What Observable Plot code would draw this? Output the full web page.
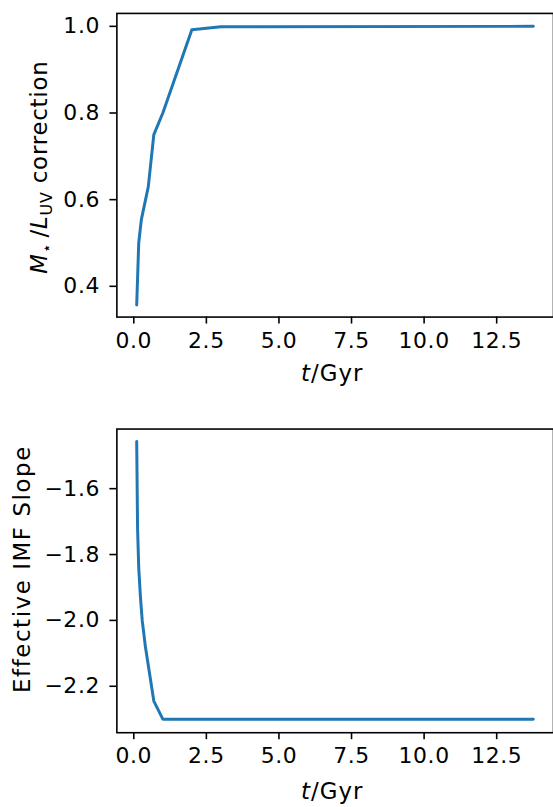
<!DOCTYPE html>
<html><head><meta charset="utf-8">
<script src="https://cdn.jsdelivr.net/npm/d3@7"></script>
<script src="https://cdn.jsdelivr.net/npm/@observablehq/plot@0.6"></script>
<style>
body{margin:0;background:#fff}
#wrap{width:553px;height:807px;overflow:hidden;position:relative;background:#fff}
#wrap svg{display:block}
#wrap svg g[aria-label="x-axis tick label"], #wrap svg g[aria-label="y-axis tick label"]{font-size:22px;letter-spacing:0.6px}
</style></head><body><div id="wrap"></div>
<script>
// Top panel: M*/L_UV correction vs time
const tTop = [0.1, 0.17, 0.26, 0.5, 0.69, 1.0, 2.0, 3.0, 13.76];
const corrTop = [0.357, 0.50, 0.554, 0.63, 0.75, 0.80, 0.992, 0.999, 1.0];
// Bottom panel: effective IMF slope vs time
const tBot = [0.1, 0.13, 0.17, 0.23, 0.29, 0.4, 0.54, 0.69, 1.0, 13.76];
const slopeBot = [-1.457, -1.72, -1.84, -1.93, -2.0, -2.08, -2.16, -2.245, -2.30, -2.30];
// Ticks
const xTicks = [0, 2.5, 5, 7.5, 10, 12.5];
const yTopTicks = [0.4, 0.6, 0.8, 1.0];
const yBotTicks = [-2.2, -2.0, -1.8, -1.6];

const topData = tTop.map((t, i) => ({t, v: corrTop[i]}));
const botData = tBot.map((t, i) => ({t, v: slopeBot[i]}));

const W = 556;
const xDomain = [-0.583, 14.457];
const fmt = d3.format(".1f");
const blue = "#1f77b4";
const font = {fontFamily: "DejaVu Sans", fontSize: "22px", color: "black", background: "white", overflow: "visible"};

function panel({data, height, mt, mb, yDomain, yTicks}) {
  return Plot.plot({
    width: W, height,
    marginLeft: 117, marginRight: 0, marginTop: mt, marginBottom: mb,
    style: font,
    x: {domain: xDomain},
    y: {domain: yDomain},
    marks: [
      Plot.line(data, {x: "t", y: "v", stroke: blue, strokeWidth: 3}),
      Plot.axisX({ticks: xTicks, tickFormat: fmt, tickSize: 7, tickPadding: 8, strokeWidth: 1.6, fontSize: 22, label: null}),
      Plot.axisY({ticks: yTicks, tickFormat: fmt, tickSize: 7, tickPadding: 10, strokeWidth: 1.6, fontSize: 22, label: null}),
      Plot.frame({stroke: "black", strokeWidth: 1.6})
    ]
  });
}

const topPanel = panel({data: topData, height: 405, mt: 13, mb: 405 - 318.3, yDomain: [0.329, 1.0298], yTicks: yTopTicks});
const botPanel = panel({data: botData, height: 402, mt: 25.7, mb: 402 - 331, yDomain: [-2.341, -1.419], yTicks: yBotTicks});

const wrap = document.getElementById("wrap");
wrap.appendChild(topPanel);
wrap.appendChild(botPanel);

function xLabel(svg, y) {
  const t = d3.select(svg).append("text")
    .attr("x", 334).attr("y", y).attr("text-anchor", "middle")
    .attr("font-family", "DejaVu Sans").attr("font-size", 23).attr("letter-spacing", 1).attr("fill", "black");
  t.append("tspan").attr("font-style", "italic").text("t");
  t.append("tspan").text("/Gyr");
}
xLabel(topPanel, 383);
xLabel(botPanel, 398);

// top y label
{
  const t = d3.select(topPanel).append("text")
    .attr("transform", "translate(47,168) rotate(-90)").attr("text-anchor", "middle")
    .attr("font-family", "DejaVu Sans").attr("font-size", 23).attr("letter-spacing", 0.8).attr("fill", "black");
  t.append("tspan").attr("font-style", "italic").text("M");
  t.append("tspan").attr("font-size", 16).attr("dy", 5).text("\u22C6");
  t.append("tspan").attr("dy", -5).attr("dx", 5).text("/");
  t.append("tspan").attr("font-style", "italic").text("L");
  t.append("tspan").attr("font-size", 16).attr("dy", 5).text("UV");
  t.append("tspan").attr("dy", -5).text(" correction");
}
// bottom y label
d3.select(botPanel).append("text")
  .attr("transform", "translate(30,167) rotate(-90)").attr("text-anchor", "middle")
  .attr("font-family", "DejaVu Sans").attr("font-size", 23).attr("letter-spacing", 1.6).attr("fill", "black")
  .text("Effective IMF Slope");
</script></body></html>
